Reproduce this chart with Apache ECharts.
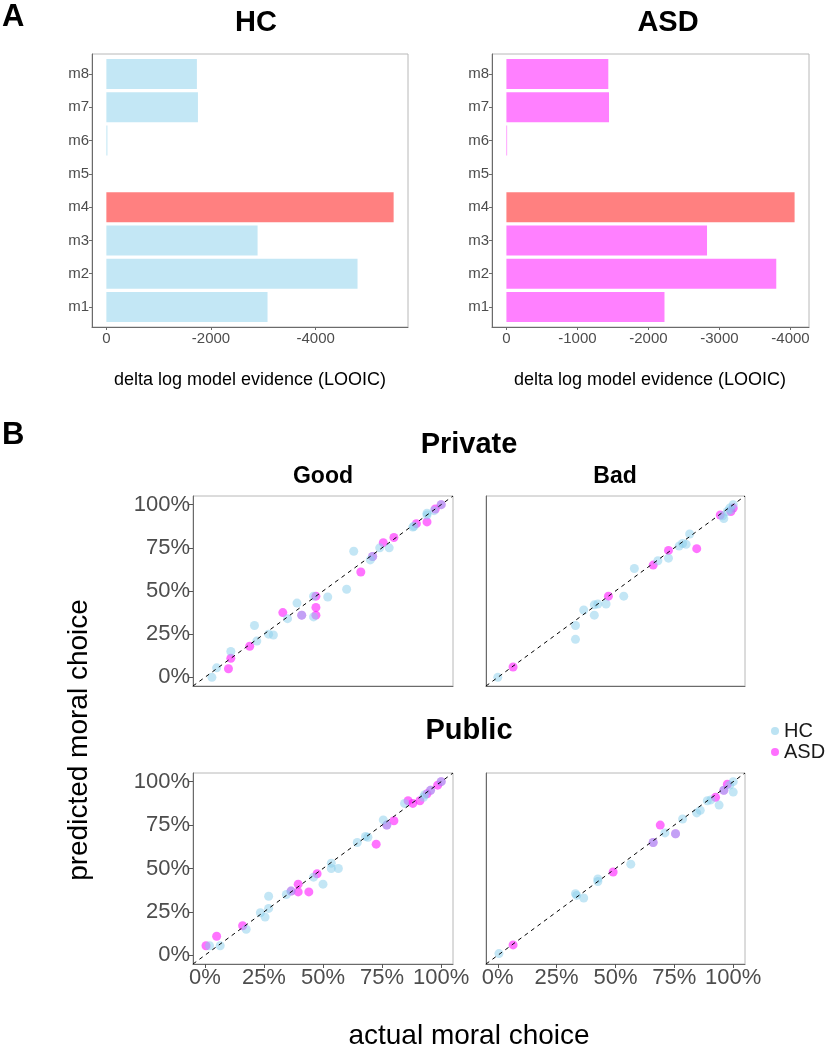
<!DOCTYPE html>
<html><head><meta charset="utf-8">
<script src="https://cdn.jsdelivr.net/npm/echarts@6/dist/echarts.min.js"></script>
<style>html,body{margin:0;padding:0;background:#fff}#chart{width:828px;height:1052px}</style>
</head><body><div id="chart"></div>
<script>
// ---------- Panel A data ----------
const models = ['m1','m2','m3','m4','m5','m6','m7','m8'];
const bestModel = 'm4';
const hcLooic  = [-3080, -4800, -2890, -5490, 0, -20, -1750, -1730];
const asdLooic = [-2226, -3800, -2825, -4058, 0, -10, -1445, -1435];
const hcTicks  = [0, -2000, -4000];
const asdTicks = [0, -1000, -2000, -3000, -4000];

// ---------- Panel B data: [actual, predicted] ----------
const privateGoodHC = [[0.03,0.00],[0.05,0.055],[0.11,0.15],[0.21,0.30],[0.22,0.21],[0.27,0.25],[0.29,0.245],[0.35,0.34],[0.39,0.43],[0.41,0.36],[0.46,0.47],[0.46,0.35],[0.52,0.465],[0.60,0.51],[0.63,0.73],[0.70,0.68],[0.71,0.70],[0.74,0.75],[0.78,0.75],[0.88,0.87],[0.885,0.875],[0.94,0.94],[0.94,0.95],[0.97,0.965],[1.0,1.0]];
const privateGoodASD = [[0.10,0.05],[0.11,0.11],[0.19,0.18],[0.33,0.375],[0.41,0.36],[0.47,0.47],[0.47,0.405],[0.47,0.36],[0.66,0.61],[0.71,0.70],[0.755,0.78],[0.80,0.81],[0.895,0.89],[0.94,0.90],[0.975,0.975],[1.0,1.0]];
const privateBadHC = [[0.00,0.00],[0.33,0.30],[0.33,0.22],[0.365,0.39],[0.41,0.36],[0.41,0.42],[0.425,0.425],[0.46,0.425],[0.535,0.47],[0.58,0.63],[0.68,0.675],[0.725,0.69],[0.77,0.76],[0.785,0.775],[0.80,0.77],[0.815,0.83],[0.955,0.935],[0.96,0.92],[0.975,0.96],[0.99,0.97],[1.0,1.0],[0.985,0.98]];
const privateBadASD = [[0.065,0.06],[0.47,0.47],[0.66,0.65],[0.725,0.735],[0.845,0.745],[0.945,0.94],[1.0,0.98],[0.99,0.96]];
const publicGoodHC = [[0.02,0.055],[0.065,0.055],[0.175,0.15],[0.235,0.245],[0.255,0.22],[0.27,0.27],[0.27,0.34],[0.345,0.35],[0.365,0.37],[0.46,0.45],[0.50,0.41],[0.535,0.53],[0.535,0.50],[0.565,0.50],[0.645,0.65],[0.68,0.685],[0.69,0.68],[0.755,0.78],[0.77,0.75],[0.845,0.875],[0.925,0.91],[0.93,0.925],[0.955,0.95],[1.0,1.0]];
const publicGoodASD = [[0.005,0.055],[0.05,0.11],[0.16,0.17],[0.365,0.37],[0.395,0.41],[0.395,0.365],[0.44,0.365],[0.475,0.47],[0.725,0.64],[0.77,0.75],[0.80,0.775],[0.86,0.89],[0.88,0.875],[0.91,0.89],[0.94,0.93],[0.985,0.98],[1.0,1.0],[0.955,0.95]];
const publicBadHC = [[0.005,0.01],[0.33,0.355],[0.335,0.345],[0.365,0.33],[0.425,0.44],[0.425,0.425],[0.565,0.525],[0.66,0.65],[0.71,0.705],[0.755,0.70],[0.785,0.785],[0.845,0.82],[0.86,0.835],[0.89,0.89],[0.905,0.895],[0.94,0.865],[0.96,0.95],[0.985,0.98],[1.0,1.0],[1.0,0.94]];
const publicBadASD = [[0.065,0.06],[0.49,0.48],[0.66,0.65],[0.69,0.75],[0.755,0.70],[0.925,0.91],[0.975,0.985],[0.96,0.95]];
const pctTicks = [0, 0.25, 0.5, 0.75, 1];
const pctTickLabels = ['0%','25%','50%','75%','100%'];

// ---------- style ----------
const FONT = '"Liberation Sans", Arial, sans-serif';
const TICKCOL = '#4d4d4d';
const HC_COL = '#87CEEB', ASD_COL = '#FF00FF';
const HC_BAR = '#C3E7F5', ASD_BAR = '#FF80FF', BEST_BAR = '#FF8080';

function expandRange(vals) {
  const lo = Math.min(0, ...vals), hi = Math.max(0, ...vals);
  const pad = (hi - lo) * 0.05;
  return [lo - pad, hi + pad];
}
const hcRange = expandRange(hcLooic);
const asdRange = expandRange(asdLooic);
const PMIN = -0.05, PMAX = 1.05;

const chart = echarts.init(document.getElementById('chart'));

const grids = [
  {left: 92, top: 54, width: 316, height: 273},   // HC bars
  {left: 492, top: 54, width: 317, height: 273},  // ASD bars
  {left: 193, top: 496, width: 260, height: 190}, // Private Good
  {left: 486, top: 496, width: 259, height: 190}, // Private Bad
  {left: 193, top: 773, width: 260, height: 191}, // Public Good
  {left: 486, top: 773, width: 259, height: 191}  // Public Bad
].map(g => Object.assign({show: true, borderColor: '#b8b8b8', borderWidth: 1, backgroundColor: '#fff'}, g));

function barX(gi, range, ticks) {
  return {
    type: 'value', gridIndex: gi, inverse: true, min: range[0], max: range[1],
    splitLine: {show: false},
    axisLine: {show: true, onZero: false, lineStyle: {color: '#6b6b6b'}},
    axisTick: {show: true, length: 3, customValues: ticks, lineStyle: {color: '#6b6b6b'}},
    axisLabel: {show: true, customValues: ticks, margin: 4, fontSize: 15, color: TICKCOL, fontFamily: FONT, formatter: v => String(v)}
  };
}
function barY(gi) {
  const pos = models.map((m, i) => i + 1);
  return {
    type: 'value', gridIndex: gi, min: 0.4, max: models.length + 0.6,
    splitLine: {show: false},
    axisLine: {show: true, onZero: false, lineStyle: {color: '#6b6b6b'}},
    axisTick: {show: true, length: 3, customValues: pos, lineStyle: {color: '#6b6b6b'}},
    axisLabel: {show: true, customValues: pos, margin: 3, fontSize: 15, color: TICKCOL, fontFamily: FONT,
      formatter: v => models[Math.round(v) - 1]}
  };
}
function pctAxis(gi, showLabels) {
  return {
    type: 'value', gridIndex: gi, min: PMIN, max: PMAX,
    splitLine: {show: false},
    axisLine: {show: true, onZero: false, lineStyle: {color: '#6b6b6b'}},
    axisTick: {show: showLabels, length: 4, customValues: pctTicks, lineStyle: {color: '#555'}},
    axisLabel: {show: showLabels, customValues: pctTicks, margin: 3, fontSize: 22, color: TICKCOL, fontFamily: FONT,
      formatter: v => pctTickLabels[pctTicks.findIndex(t => Math.abs(t - v) < 1e-6)]}
  };
}

const xAxes = [barX(0, hcRange, hcTicks), barX(1, asdRange, asdTicks),
  pctAxis(2, false), pctAxis(3, false), pctAxis(4, true), pctAxis(5, true)];
const yAxes = [barY(0), barY(1),
  pctAxis(2, true), pctAxis(3, false), pctAxis(4, true), pctAxis(5, false)];

function barSeries(gi, values, baseColor) {
  return {
    type: 'custom', xAxisIndex: gi, yAxisIndex: gi, silent: true,
    data: values.map((v, i) => [v, i + 1]),
    encode: {x: 0, y: 1},
    renderItem(params, api) {
      const cat = api.value(1), val = api.value(0);
      const p0 = api.coord([0, cat]);
      const p1 = api.coord([val, cat]);
      const h = api.size([0, 0.9])[1];
      const fill = models[params.dataIndex] === bestModel ? BEST_BAR : baseColor;
      return {type: 'rect', shape: {x: Math.min(p0[0], p1[0]), y: p0[1] - h / 2, width: Math.abs(p1[0] - p0[0]), height: h},
        style: {fill: fill}};
    }
  };
}
function scatterSeries(gi, name, data, color, op) {
  return {type: 'scatter', name: name, xAxisIndex: gi, yAxisIndex: gi, data: data, symbolSize: 9,
    itemStyle: {color: color, opacity: op}, silent: true, z: 2};
}
function diagSeries(gi) {
  return {type: 'line', xAxisIndex: gi, yAxisIndex: gi, data: [[PMIN, PMIN], [PMAX, PMAX]], symbol: 'none', silent: true,
    lineStyle: {color: '#000', width: 1, type: [4, 4]}, z: 3};
}

const series = [
  barSeries(0, hcLooic, HC_BAR),
  barSeries(1, asdLooic, ASD_BAR),
  scatterSeries(2, 'ASD', privateGoodASD, ASD_COL, 0.55), scatterSeries(2, 'HC', privateGoodHC, HC_COL, 0.5), diagSeries(2),
  scatterSeries(3, 'ASD', privateBadASD, ASD_COL, 0.55), scatterSeries(3, 'HC', privateBadHC, HC_COL, 0.5), diagSeries(3),
  scatterSeries(4, 'ASD', publicGoodASD, ASD_COL, 0.55), scatterSeries(4, 'HC', publicGoodHC, HC_COL, 0.5), diagSeries(4),
  scatterSeries(5, 'ASD', publicBadASD, ASD_COL, 0.55), scatterSeries(5, 'HC', publicBadHC, HC_COL, 0.5), diagSeries(5)
];

function txt(text, x, y, size, bold, rot, color) {
  return {type: 'text', x: x, y: y, rotation: rot || 0, silent: true,
    style: {text: text, fill: color || '#000', font: (bold ? 'bold ' : '') + size + 'px ' + FONT,
      textAlign: 'center', textVerticalAlign: 'middle'}};
}

const option = {
  animation: false,
  backgroundColor: '#fff',
  grid: grids,
  xAxis: xAxes,
  yAxis: yAxes,
  series: series,
  legend: {
    data: [{name: 'HC', itemStyle: {color: '#BCE3F3', opacity: 1}}, {name: 'ASD', itemStyle: {color: '#FF70FF', opacity: 1}}],
    orient: 'vertical', left: 771, top: 721, icon: 'circle', itemWidth: 8, itemHeight: 8, itemGap: 1,
    padding: 0, selectedMode: false,
    textStyle: {fontSize: 20, color: '#1a1a1a', fontFamily: FONT, lineHeight: 17}
  },
  graphic: [
    {type: 'text', left: 2, top: 2, style: {text: 'A', font: 'bold 31px ' + FONT, fill: '#000'}},
    {type: 'text', left: 2, top: 420, style: {text: 'B', font: 'bold 31px ' + FONT, fill: '#000'}},
    txt('HC', 256, 23, 29, true),
    txt('ASD', 668, 23, 29, true),
    txt('delta log model evidence (LOOIC)', 250, 380, 18, false),
    txt('delta log model evidence (LOOIC)', 650, 380, 18, false),
    txt('Private', 469, 445, 29, true),
    txt('Good', 323, 477, 23, true),
    txt('Bad', 615, 477, 23, true),
    txt('Public', 469, 731, 29, true),
    txt('predicted moral choice', 79, 740, 28, false, Math.PI / 2),
    txt('actual moral choice', 469, 1036, 28, false)
  ]
};
chart.setOption(option);
</script>
</body></html>
